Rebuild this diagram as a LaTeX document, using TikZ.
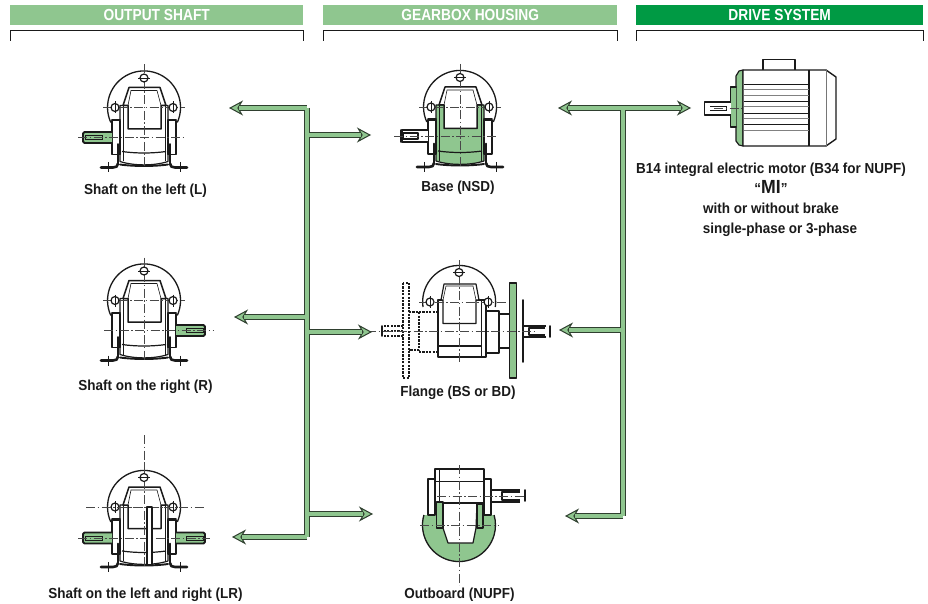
\documentclass[tikz,border=0pt]{standalone}
\usepackage{fontspec}
\setmainfont[FakeStretch=0.93]{Liberation Sans}
\newfontfamily\headfont[FakeStretch=0.86]{Liberation Sans}
\usetikzlibrary{arrows.meta,calc}
\definecolor{lgreen}{HTML}{8FC68F}
\definecolor{dgreen}{HTML}{009A44}
\definecolor{ink}{HTML}{1A1A1A}
\definecolor{arrowink}{HTML}{2F3F2F}
\tikzset{
  headbar/.style={fill=lgreen,draw=none,minimum height=20pt,inner sep=0pt,text=white,font=\headfont\bfseries\fontsize{16}{16}\selectfont},
  bracket/.style={draw=ink,line width=1pt},
  caption/.style={font=\bfseries\fontsize{14.5}{19.5}\selectfont,text=ink,inner sep=0pt,align=center},
  ol/.style={draw=ink,line width=1.2pt,line join=round},
  thick2/.style={draw=ink,line width=1.9pt,line cap=round,line join=round},
  footline/.style={draw=ink,line width=2.6pt,line cap=round,line join=round},
  thin2/.style={draw=ink,line width=.6pt},
  cl/.style={draw=ink!80,line width=.55pt,dash pattern=on 9pt off 2.5pt on 1.5pt off 2.5pt},
  dsh/.style={draw=ink,line width=1.1pt,dash pattern=on 2.2pt off 1.2pt},
  conA/.style={draw=arrowink,line width=6pt,-{Stealth[length=14pt,width=15pt,inset=4.5pt,fill=lgreen,line width=1pt]}},
  conL/.style={draw=arrowink,line width=6pt},
  conG/.style={draw=lgreen,line width=4pt},
}
\newcommand{\holes}{%
  \draw[ol,fill=white] (0,-29.5) circle (4);
  \draw[ol,fill=white] (-29,0) circle (4);
  \draw[ol,fill=white] (29,0) circle (4);
  \draw[thin2] (-6,-29.5) -- (6,-29.5);
  \draw[thin2] (-29,-6) -- (-29,6) (29,-6) -- (29,6);
}
\newcommand{\windowshape}{%
  \draw[ol,line width=1.5pt,fill=white] (-16,-2) -- (-21,-2) -- (-15,-20) -- (16,-20) -- (22,-2) -- (17,-2) -- (17,21.5) -- (-16,21.5) -- cycle;
  \draw[thin2] (-16,-2) -- (-13,-17) -- (13,-17) -- (17,-2);
}
\newcommand{\gearfront}[1]{%
  \draw[ol,line width=1.3pt] (-33.2,15) arc[start angle=155.6,end angle=384.4,radius=36.5];
  \draw[ol,fill=#1] (-24,-2) -- (24,-2) -- (24,54) .. controls (10,58.5) and (-10,58.5) .. (-24,54) -- cycle;
  \draw[ol,fill=white] (-32,13) -- (-24,13) -- (-24,47) -- (-32,47) -- cycle;
  \draw[ol,fill=white] (24,13) -- (32,13) -- (32,47) -- (24,47) -- cycle;
  \draw[thick2] (-32,12) -- (-24,12) (24,12) -- (32,12);
  \draw[thin2] (-21,-2) -- (-21,54) (21,-2) -- (21,54);
  \draw[ol] (-22,44) .. controls (-8,46) and (8,46) .. (22,44);
  \draw[thick2] (-24,57) .. controls (-10,59) and (10,59) .. (24,57);
  \windowshape
  \draw[thick2] (-26,36.5) -- (-26,56);
  \draw[thick2] (26,36.5) -- (26,56);
  \draw[footline] (-26,56) .. controls (-26,59) and (-28,60) .. (-31,60) -- (-43,60);
  \draw[footline] (26,56) .. controls (26,59) and (28,60) .. (31,60) -- (43,60);
  \draw[thin2] (-36,55) -- (-36,65) (36,55) -- (36,65);
  \draw[cl] (-41,0) -- (41,0);
  \draw[cl] (0,-43) -- (0,60);
  \holes
}
\newcommand{\solidshaft}[2]{% x sign, axis dy
  \begin{scope}[shift={(0,#2)},xscale=#1]
  \draw[thick2,fill=lgreen,rounded corners=1.5pt] (-32,-5.5) -- (-61,-5.5) -- (-61,5.5) -- (-32,5.5);
  \draw[ink,fill=lgreen,line width=.7pt] (-59,-2) rectangle (-42,2);
  \end{scope}
}
\begin{document}
\begin{tikzpicture}[x=1pt,y=-1pt]
\useasboundingbox (0,0) rectangle (928,604);
\fill[white] (0,0) rectangle (928,604);
% headers
\node[headbar,minimum width=293pt,anchor=north west] (h1) at (10,5) {OUTPUT SHAFT};
\node[headbar,minimum width=294pt,anchor=north west] (h2) at (323,5) {GEARBOX HOUSING};
\node[headbar,fill=dgreen,minimum width=287pt,anchor=north west] (h3) at (636,5) {DRIVE SYSTEM};
\draw[bracket] (10,41) -- (10,30.5) -- (303,30.5) -- (303,41);
\draw[bracket] (323,41) -- (323,30.5) -- (617,30.5) -- (617,41);
\draw[bracket] (636,41) -- (636,30.5) -- (923,30.5) -- (923,41);
% output shaft L
\begin{scope}[shift={(144,107.5)}]
  \gearfront{white}
  \solidshaft{1}{30}
  \draw[cl] (-66,30) -- (40,30);
\end{scope}
% output shaft R
\begin{scope}[shift={(144,300.5)}]
  \gearfront{white}
  \solidshaft{-1}{30}
  \draw[cl] (-40,30) -- (70,30);
\end{scope}
% output shaft LR
\begin{scope}[shift={(144,507)}]
  \gearfront{white}
  \solidshaft{1}{31}
  \solidshaft{-1}{31}
  \draw[cl] (-66,31) -- (66,31);
  \draw[cl] (0,-72) -- (0,-40);
  \draw[cl] (-58,0) -- (61,0);
  \draw[ol,fill=white] (3,0) rectangle (8,58);
\end{scope}
% base NSD
\begin{scope}[shift={(460,107)}]
  \gearfront{lgreen}
  \draw[ol,fill=white] (-32,23) -- (-58,23) -- (-58,35) -- (-32,35);
  \draw[thick2] (-59,23) -- (-59,35);
  \draw[thick2] (-57,26) rectangle (-42,32);
  \draw[cl] (-66,29) -- (36,29);
\end{scope}
% flange BS/BD
\begin{scope}[shift={(459,302)}]
  \draw[ol,line width=1.3pt] (-36,5) arc[start angle=172,end angle=368,radius=36.5];
  \draw[ol,fill=white] (-21,-2) -- (27,-2) -- (27,55) -- (-21,55) -- cycle;
  \draw[thin2] (22,-2) -- (22,55);
  \draw[ol] (-21,44) -- (22,44);
  \draw[ol,fill=white] (-16,-2) -- (-18,-2) -- (-15,-18) -- (17,-18) -- (20,-2) -- (17,-2) -- (17,21.5) -- (-16,21.5) -- cycle;
  \draw[thin2] (-16,-2) -- (-13,-16) -- (14,-16) -- (17,-2);
  \draw[ol,fill=white] (27,9) rectangle (40,51);
  \draw[ol,fill=white] (40,12) rectangle (51,46);
  \draw[thick2,fill=lgreen] (50.5,-19) rectangle (57.5,76);
  \draw[thick2] (64,-2) -- (64,60);
  \draw[ol] (64,24) -- (87,24) (64,35) -- (87,35) (64,24) -- (64,35);
  \draw[ol,line width=1.6pt] (86,26) -- (70,26) -- (70,33) -- (86,33);
  \draw[thick2] (91,24) -- (91,35);
  % dashed
  \draw[dsh] (-56,-19) rectangle (-50,76);
  \draw[dsh] (-50,10) -- (-40,10) -- (-40,48) -- (-50,48);
  \draw[dsh] (-40,10) -- (-21,10) (-40,50) -- (-21,50);
  \draw[dsh] (-56,24) -- (-76,24) (-56,29) -- (-76,29) (-56,34) -- (-76,34);
  \draw[thick2] (-77,24) -- (-77,34);
  \draw[cl] (-92,29) -- (76,29);
  \draw[cl] (-40,0) -- (48,0);
  \draw[cl] (0,-42) -- (0,60);
  \holes
\end{scope}
% outboard NUPF
\begin{scope}[shift={(459,525)}]
  \draw[ol,fill=lgreen,line width=1.3pt] (-35.1,-10) arc[start angle=196,end angle=-16,radius=36.5];
  \draw[ol,fill=white] (-16,-22) -- (-16,3) -- (-11,18) -- (14,18) -- (17,3) -- (18,-22) -- cycle;
  \draw[ol,fill=white] (-31,-46) rectangle (-24,-10);
  \draw[ol,fill=white] (25,-46) rectangle (32,-10);
  \draw[ol,fill=white] (-24,-56) rectangle (25,-22);
  \draw[thin2] (-20,-56) -- (-20,-22) (-24,-44) -- (25,-44);
  \draw[thick2,fill=lgreen] (-22.5,-23) rectangle (-16,3);
  \draw[thick2,fill=lgreen] (18,-21) rectangle (24,3);
  \draw[ol] (32,-35) -- (61,-35) (32,-23) -- (61,-23);
  \draw[ol,line width=1.6pt] (61,-33) -- (43,-33) -- (43,-25) -- (61,-25);
  \draw[thick2] (66,-35) -- (66,-24);
  \draw[cl] (-39,0) -- (39,0);
  \draw[cl] (0,-60) -- (0,60);
  \draw[cl] (-22,-29) -- (65,-29);
\end{scope}
% motor
\begin{scope}
  \draw[ol] (763,70) -- (763,59.5) -- (795,59.5) -- (795,70);
  \draw[ol,fill=lgreen] (743,70) -- (739,71) -- (736,76) -- (736,141) -- (739,145) -- (743,146) -- cycle;
  \draw[thick2,fill=lgreen] (736,87) -- (730.5,87) -- (730.5,127) -- (736,127);
  \draw[ol,line width=1.4pt,fill=white] (743,70) -- (826,70) -- (836,77) -- (836,139) -- (826,146) -- (743,146) -- cycle;
  \draw[ol] (809,70) -- (809,146);
  \draw[draw=ink!60,line width=.9pt] (826,70) -- (826,146);
  \foreach \yy in {84.5,101.5,113,124} {\draw[ink,line width=.9pt] (744,\yy) -- (809,\yy);}
  \foreach \yy in {90,96,107,119,130.5} {\draw[ink!55,line width=1pt] (744,\yy) -- (809,\yy);}
  \draw[ol,line width=1.6pt,fill=white] (730.5,102) -- (704.5,102) -- (704.5,115) -- (730.5,115);
  \draw[thin2] (710,106) -- (726,106) -- (726,110) -- (710,110);
  \draw[cl] (714,108.5) -- (742,108.5);
\end{scope}
% captions
\node[caption] (c1) at (145.5,191) {Shaft on the left (L)};
\node[caption] (c2) at (145.5,386.5) {Shaft on the right (R)};
\node[caption] (c3) at (145.5,594.5) {Shaft on the left and right (LR)};
\node[caption] (c4) at (458,188) {Base (NSD)};
\node[caption] (c5) at (458,393) {Flange (BS or BD)};
\node[caption] (c6) at (459.5,594.5) {Outboard (NUPF)};
\node[caption,anchor=north] (c7) at (771,163) {B14 integral electric motor (B34 for NUPF)\\``{\fontsize{19}{19}\selectfont MI}''\\[1pt]with or without brake\\\hspace*{18pt}single-phase or 3-phase};
% connectors
\coordinate (jL) at (307,108);
\coordinate (jLb) at (307,537);
\coordinate (a1) at (229,108);
\coordinate (a2) at (234,317);
\coordinate (j2) at (307,317);
\coordinate (a3) at (232,537);
\coordinate (b1) at (371,135);
\coordinate (k1) at (307,135);
\coordinate (b2) at (372,332);
\coordinate (k2) at (307,332);
\coordinate (b3) at (373,514);
\coordinate (k3) at (307,514);
\coordinate (jR) at (623,108);
\coordinate (jRb) at (623,516);
\coordinate (m1) at (558,108);
\coordinate (m2) at (691,108);
\coordinate (m3) at (559,330);
\coordinate (kk) at (623,330);
\coordinate (m4) at (565,516);
\foreach \p/\q in {jL/a1,j2/a2,jLb/a3,k1/b1,k2/b2,k3/b3,jR/m1,jR/m2,kk/m3,jRb/m4} {\draw[conA] (\p) -- (\q);}
\draw[conL,line cap=square] (jL) -- (jLb);
\draw[conL,line cap=square] (jR) -- (jRb);
\foreach \p/\q in {jL/a1,j2/a2,jLb/a3,k1/b1,k2/b2,k3/b3,jR/m1,jR/m2,kk/m3,jRb/m4} {\draw[conG,shorten >=10pt] (\p) -- (\q);}
\draw[conG,line cap=square] (jL) -- (jLb);
\draw[conG,line cap=square] (jR) -- (jRb);
\end{tikzpicture}
\end{document}
